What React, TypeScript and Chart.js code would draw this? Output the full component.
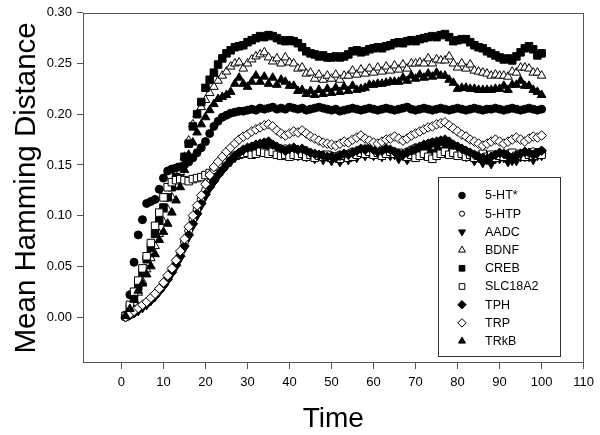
import React, { useEffect, useRef } from "react";
import { Chart, registerables } from "chart.js";

Chart.register(...registerables);

// Time points (x categories)
const TIME: number[] = Array.from({ length: 100 }, (_, i) => i + 1);
const X_TICKS = [0, 10, 20, 30, 40, 50, 60, 70, 80, 90, 100, 110];
const Y_TICKS = [0, 0.05, 0.1, 0.15, 0.2, 0.25, 0.3];

const HT5_STAR = [
  0.002, 0.022, 0.054, 0.081, 0.096, 0.112, 0.114, 0.116, 0.126, 0.137,
  0.144, 0.146, 0.147, 0.148, 0.150, 0.153, 0.157, 0.162, 0.167, 0.173,
  0.181, 0.188, 0.193, 0.197, 0.199, 0.201, 0.202, 0.203, 0.203, 0.204,
  0.205, 0.204, 0.206, 0.205, 0.206, 0.207, 0.205, 0.206, 0.205, 0.207,
  0.206, 0.205, 0.206, 0.204, 0.205, 0.206, 0.207, 0.206, 0.205, 0.204,
  0.205, 0.203, 0.204, 0.205, 0.206, 0.205, 0.204, 0.205, 0.206, 0.205,
  0.204, 0.205, 0.206, 0.205, 0.204, 0.205, 0.206, 0.207, 0.205, 0.204,
  0.205, 0.206, 0.205, 0.204, 0.205, 0.206, 0.205, 0.204, 0.205, 0.206,
  0.205, 0.204, 0.205, 0.206, 0.205, 0.204, 0.205, 0.205, 0.206, 0.205,
  0.204, 0.205, 0.206, 0.205, 0.204, 0.205, 0.206, 0.205, 0.204, 0.205,
];

const HTP5 = [
  0.000, 0.002, 0.005, 0.008, 0.011, 0.014, 0.018, 0.022, 0.027, 0.033,
  0.039, 0.046, 0.054, 0.063, 0.074, 0.085, 0.096, 0.106, 0.116, 0.125,
  0.132, 0.138, 0.143, 0.148, 0.152, 0.156, 0.159, 0.161, 0.163, 0.165,
  0.167, 0.168, 0.170, 0.171, 0.171, 0.169, 0.167, 0.165, 0.166, 0.164,
  0.165, 0.163, 0.164, 0.162, 0.161, 0.160, 0.159, 0.160, 0.158, 0.159,
  0.158, 0.160, 0.159, 0.161, 0.163, 0.162, 0.164, 0.166, 0.165, 0.163,
  0.164, 0.162, 0.165, 0.163, 0.162, 0.160, 0.161, 0.163, 0.165, 0.167,
  0.166, 0.169, 0.170, 0.172, 0.171, 0.173, 0.172, 0.171, 0.168, 0.166,
  0.165, 0.162, 0.161, 0.159, 0.158, 0.156, 0.157, 0.159, 0.158, 0.160,
  0.159, 0.161, 0.160, 0.158, 0.160, 0.162, 0.161, 0.163, 0.162, 0.163,
];

const AADC = [
  0.000, 0.002, 0.004, 0.006, 0.009, 0.012, 0.016, 0.020, 0.025, 0.030,
  0.036, 0.043, 0.050, 0.058, 0.068, 0.079, 0.090, 0.100, 0.110, 0.119,
  0.127, 0.133, 0.139, 0.144, 0.149, 0.153, 0.157, 0.160, 0.162, 0.164,
  0.166, 0.163, 0.168, 0.165, 0.170, 0.164, 0.167, 0.161, 0.165, 0.160,
  0.164, 0.159, 0.163, 0.158, 0.161, 0.156, 0.160, 0.155, 0.159, 0.154,
  0.158, 0.153, 0.158, 0.155, 0.160, 0.157, 0.162, 0.159, 0.163, 0.159,
  0.162, 0.158, 0.163, 0.159, 0.160, 0.156, 0.159, 0.155, 0.160, 0.160,
  0.164, 0.161, 0.166, 0.163, 0.168, 0.165, 0.170, 0.166, 0.166, 0.162,
  0.163, 0.158, 0.159, 0.154, 0.157, 0.152, 0.155, 0.151, 0.156, 0.156,
  0.157, 0.153, 0.154, 0.154, 0.158, 0.158, 0.158, 0.155, 0.159, 0.159,
];

const BDNF = [
  0.001, 0.006, 0.014, 0.024, 0.035, 0.047, 0.058, 0.070, 0.082, 0.094,
  0.106, 0.118, 0.130, 0.143, 0.158, 0.174, 0.190, 0.200, 0.207, 0.214,
  0.221, 0.227, 0.233, 0.238, 0.242, 0.247, 0.250, 0.251, 0.245, 0.250,
  0.254, 0.257, 0.259, 0.261, 0.256, 0.252, 0.255, 0.250, 0.256, 0.251,
  0.250, 0.245, 0.246, 0.240, 0.241, 0.235, 0.239, 0.234, 0.238, 0.235,
  0.239, 0.234, 0.238, 0.238, 0.243, 0.239, 0.244, 0.240, 0.245, 0.241,
  0.246, 0.242, 0.247, 0.243, 0.248, 0.244, 0.249, 0.245, 0.250, 0.250,
  0.251, 0.250, 0.255, 0.250, 0.254, 0.253, 0.253, 0.257, 0.250, 0.246,
  0.250, 0.245, 0.249, 0.243, 0.242, 0.241, 0.240, 0.238, 0.239, 0.238,
  0.238, 0.237, 0.242, 0.241, 0.246, 0.246, 0.245, 0.241, 0.241, 0.238,
];

const CREB = [
  0.001, 0.008, 0.018, 0.030, 0.044, 0.057, 0.068, 0.082, 0.095, 0.108,
  0.118, 0.128, 0.138, 0.148, 0.158, 0.171, 0.188, 0.200, 0.212, 0.226,
  0.234, 0.241, 0.249, 0.255, 0.260, 0.263, 0.266, 0.267, 0.268, 0.271,
  0.273, 0.275, 0.277, 0.276, 0.278, 0.277, 0.275, 0.273, 0.272, 0.273,
  0.272, 0.270, 0.266, 0.262, 0.260, 0.259, 0.257, 0.258, 0.256, 0.256,
  0.257, 0.256, 0.257, 0.259, 0.262, 0.263, 0.261, 0.262, 0.264, 0.265,
  0.266, 0.265, 0.267, 0.268, 0.270, 0.271, 0.270, 0.272, 0.273, 0.272,
  0.274, 0.275, 0.276, 0.277, 0.276, 0.278, 0.279, 0.276, 0.272, 0.273,
  0.274, 0.274, 0.271, 0.268, 0.266, 0.265, 0.262, 0.260, 0.258, 0.256,
  0.254, 0.255, 0.253, 0.257, 0.261, 0.265, 0.267, 0.264, 0.258, 0.260,
];

const SLC18A2 = [
  0.001, 0.012, 0.025, 0.036, 0.048, 0.060, 0.073, 0.090, 0.103, 0.118,
  0.128, 0.133, 0.135, 0.136, 0.135, 0.134, 0.136, 0.137, 0.138, 0.140,
  0.142, 0.145, 0.148, 0.151, 0.154, 0.157, 0.159, 0.160, 0.161, 0.162,
  0.160, 0.161, 0.163, 0.162, 0.161, 0.163, 0.160, 0.159, 0.160, 0.158,
  0.160, 0.159, 0.161, 0.158, 0.160, 0.157, 0.159, 0.158, 0.160, 0.157,
  0.158, 0.156, 0.159, 0.157, 0.158, 0.160, 0.162, 0.161, 0.163, 0.160,
  0.162, 0.159, 0.161, 0.163, 0.161, 0.162, 0.160, 0.158, 0.160, 0.157,
  0.159, 0.161, 0.158, 0.156, 0.159, 0.161, 0.163, 0.160, 0.162, 0.159,
  0.161, 0.158, 0.160, 0.157, 0.159, 0.161, 0.158, 0.160, 0.157, 0.159,
  0.158, 0.160, 0.162, 0.159, 0.161, 0.158, 0.160, 0.159, 0.161, 0.160,
];

const TPH = [
  0.000, 0.002, 0.004, 0.007, 0.010, 0.013, 0.017, 0.021, 0.026, 0.031,
  0.037, 0.044, 0.051, 0.060, 0.070, 0.081, 0.092, 0.102, 0.112, 0.121,
  0.128, 0.134, 0.140, 0.145, 0.150, 0.155, 0.159, 0.162, 0.165, 0.167,
  0.168, 0.170, 0.171, 0.172, 0.173, 0.170, 0.168, 0.166, 0.164, 0.166,
  0.167, 0.165, 0.166, 0.164, 0.162, 0.161, 0.160, 0.159, 0.158, 0.158,
  0.157, 0.159, 0.161, 0.160, 0.162, 0.164, 0.166, 0.165, 0.167, 0.165,
  0.163, 0.164, 0.166, 0.165, 0.163, 0.161, 0.160, 0.162, 0.164, 0.166,
  0.168, 0.170, 0.171, 0.172, 0.173, 0.174, 0.175, 0.173, 0.170, 0.168,
  0.166, 0.164, 0.162, 0.160, 0.158, 0.157, 0.156, 0.158, 0.160, 0.162,
  0.161, 0.159, 0.157, 0.159, 0.161, 0.163, 0.162, 0.160, 0.162, 0.164,
];

const TRP = [
  0.000, 0.003, 0.006, 0.009, 0.012, 0.015, 0.019, 0.023, 0.028, 0.034,
  0.041, 0.048, 0.056, 0.065, 0.077, 0.089, 0.100, 0.110, 0.120, 0.131,
  0.140, 0.148, 0.153, 0.158, 0.163, 0.167, 0.171, 0.175, 0.178, 0.180,
  0.183, 0.185, 0.187, 0.189, 0.190, 0.188, 0.184, 0.181, 0.179, 0.181,
  0.183, 0.182, 0.184, 0.181, 0.178, 0.176, 0.174, 0.172, 0.171, 0.170,
  0.169, 0.171, 0.173, 0.172, 0.175, 0.177, 0.179, 0.176, 0.174, 0.172,
  0.171, 0.173, 0.175, 0.176, 0.178, 0.176, 0.174, 0.176, 0.179, 0.181,
  0.183, 0.185, 0.187, 0.188, 0.190, 0.191, 0.192, 0.189, 0.186, 0.183,
  0.180, 0.178, 0.175, 0.173, 0.171, 0.169, 0.171, 0.173, 0.175, 0.173,
  0.171, 0.173, 0.175, 0.177, 0.175, 0.173, 0.176, 0.178, 0.177, 0.179,
];

const TRKB = [
  0.001, 0.008, 0.017, 0.026, 0.033, 0.042, 0.050, 0.062, 0.076, 0.084,
  0.092, 0.103, 0.115, 0.128, 0.145, 0.160, 0.172, 0.182, 0.190, 0.197,
  0.204, 0.210, 0.215, 0.217, 0.219, 0.222, 0.230, 0.236, 0.230, 0.227,
  0.232, 0.238, 0.232, 0.237, 0.230, 0.236, 0.229, 0.234, 0.232, 0.228,
  0.228, 0.223, 0.224, 0.220, 0.223, 0.219, 0.224, 0.220, 0.225, 0.221,
  0.226, 0.222, 0.227, 0.223, 0.228, 0.224, 0.225, 0.226, 0.229, 0.229,
  0.230, 0.230, 0.231, 0.232, 0.232, 0.232, 0.236, 0.233, 0.238, 0.235,
  0.239, 0.236, 0.240, 0.237, 0.241, 0.238, 0.238, 0.234, 0.231, 0.225,
  0.226, 0.226, 0.225, 0.225, 0.224, 0.224, 0.224, 0.224, 0.225, 0.225,
  0.228, 0.224, 0.229, 0.229, 0.233, 0.228, 0.228, 0.224, 0.222, 0.219,
];

const LABELS = ["5-HT*", "5-HTP", "AADC", "BDNF", "CREB", "SLC18A2", "TPH", "TRP", "TRkB"];
const VALUES = [HT5_STAR, HTP5, AADC, BDNF, CREB, SLC18A2, TPH, TRP, TRKB];

type Mk = { style: string; rot: number; filled: boolean; r: number; lr: number };
const MARKERS: Mk[] = [
  { style: "circle", rot: 0, filled: true, r: 4.0, lr: 3.3 },
  { style: "circle", rot: 0, filled: false, r: 4.0, lr: 2.6 },
  { style: "triangle", rot: 180, filled: true, r: 5.0, lr: 4.0 },
  { style: "triangle", rot: 0, filled: false, r: 5.0, lr: 4.0 },
  { style: "rect", rot: 0, filled: true, r: 5.3, lr: 4.0 },
  { style: "rect", rot: 0, filled: false, r: 5.3, lr: 4.0 },
  { style: "rectRot", rot: 0, filled: true, r: 4.8, lr: 4.2 },
  { style: "rectRot", rot: 0, filled: false, r: 4.8, lr: 4.2 },
  { style: "triangle", rot: 0, filled: true, r: 5.0, lr: 4.0 },
];

const FONT = '"Liberation Sans", Arial, Helvetica, sans-serif';
const AXIS_COLOR = "#555555";

function drawMarker(ctx: CanvasRenderingContext2D, m: Mk, x: number, y: number, r: number) {
  ctx.beginPath();
  if (m.style === "circle") {
    ctx.arc(x, y, r, 0, Math.PI * 2);
  } else if (m.style === "rect") {
    const s = Math.SQRT1_2 * r;
    ctx.rect(x - s, y - s, 2 * s, 2 * s);
  } else if (m.style === "rectRot") {
    ctx.moveTo(x, y - r);
    ctx.lineTo(x + r, y);
    ctx.lineTo(x, y + r);
    ctx.lineTo(x - r, y);
    ctx.closePath();
  } else if (m.style === "triangle") {
    let a = (m.rot * Math.PI) / 180;
    ctx.moveTo(x + Math.sin(a) * r, y - Math.cos(a) * r);
    a += (2 * Math.PI) / 3;
    ctx.lineTo(x + Math.sin(a) * r, y - Math.cos(a) * r);
    a += (2 * Math.PI) / 3;
    ctx.lineTo(x + Math.sin(a) * r, y - Math.cos(a) * r);
    ctx.closePath();
  }
  ctx.fillStyle = m.filled ? "#000" : "#fff";
  ctx.fill();
  ctx.strokeStyle = "#000";
  ctx.lineWidth = 1;
  ctx.stroke();
}

const decorPlugin = {
  id: "decor",
  afterDraw(chart: any) {
    const { ctx, chartArea: a } = chart;
    ctx.save();
    // frame
    ctx.strokeStyle = AXIS_COLOR;
    ctx.lineWidth = 1;
    ctx.strokeRect(Math.round(a.left) + 0.5, Math.round(a.top) + 0.5, Math.round(a.right - a.left) - 1, Math.round(a.bottom - a.top) - 1);

    // axis titles
    ctx.fillStyle = "#000";
    ctx.textAlign = "center";
    ctx.textBaseline = "middle";
    ctx.font = `28px ${FONT}`;
    ctx.fillText("Time", (a.left + a.right) / 2, 419);
    ctx.save();
    ctx.translate(27, (a.top + a.bottom) / 2);
    ctx.rotate(-Math.PI / 2);
    ctx.font = `29.5px ${FONT}`;
    ctx.fillText("Mean Hamming Distance", 0, 0);
    ctx.restore();

    // legend
    const bx = 438, by = 177, bw = 122, bh = 179;
    ctx.fillStyle = "#fff";
    ctx.fillRect(bx, by, bw, bh);
    ctx.strokeStyle = "#333";
    ctx.strokeRect(bx + 0.5, by + 0.5, bw, bh);
    ctx.font = `12.5px ${FONT}`;
    ctx.textAlign = "left";
    ctx.textBaseline = "middle";
    LABELS.forEach((lab, i) => {
      const y = 195.5 + i * 18.2;
      drawMarker(ctx, MARKERS[i], 462, y, MARKERS[i].lr);
      ctx.fillStyle = "#000";
      ctx.fillText(lab, 485, y + 0.5);
    });
    ctx.restore();
  },
};

export default function App() {
  const ref = useRef<HTMLCanvasElement | null>(null);
  useEffect(() => {
    const prevMargin = document.body.style.margin;
    document.body.style.margin = "0";
    const canvas = ref.current!;
    const datasets = LABELS.map((lab, i) => {
      const m = MARKERS[i];
      return {
        label: lab,
        data: TIME.map((t, j) => ({ x: t, y: VALUES[i][j] })),
        showLine: false,
        pointStyle: m.style,
        pointRotation: m.rot,
        pointRadius: m.r,
        pointHoverRadius: m.r,
        pointBackgroundColor: m.filled ? "#000" : "#fff",
        pointBorderColor: "#000",
        pointBorderWidth: 1,
        order: -i,
      };
    });
    const tickFont = { family: FONT, size: 13 };
    const chart = new Chart(canvas, {
      type: "scatter",
      data: { datasets: datasets as any },
      options: {
        responsive: false,
        animation: false,
        devicePixelRatio: 1,
        events: [],
        layout: { padding: { top: 12, right: 14, left: 0, bottom: 0 } },
        plugins: { legend: { display: false }, tooltip: { enabled: false } },
        scales: {
          x: {
            type: "linear",
            min: -9.15,
            max: 110,
            afterBuildTicks: (axis: any) => {
              axis.ticks = X_TICKS.map((v) => ({ value: v }));
            },
            afterFit: (s: any) => {
              s.height = 72;
            },
            border: { display: false },
            grid: { display: true, drawOnChartArea: false, drawTicks: true, tickLength: 6, color: AXIS_COLOR },
            ticks: { font: tickFont, color: "#000", padding: 6, maxRotation: 0, autoSkip: false, callback: (v: any) => String(v) },
          },
          y: {
            type: "linear",
            min: -0.0453,
            max: 0.3,
            afterBuildTicks: (axis: any) => {
              axis.ticks = Y_TICKS.map((v) => ({ value: v }));
            },
            afterFit: (s: any) => {
              s.width = 83;
            },
            border: { display: false },
            grid: { display: true, drawOnChartArea: false, drawTicks: true, tickLength: 6, color: AXIS_COLOR },
            ticks: { font: tickFont, color: "#000", padding: 5, autoSkip: false, callback: (v: any) => Number(v).toFixed(2) },
          },
        },
      },
      plugins: [decorPlugin],
    });
    return () => {
      chart.destroy();
      document.body.style.margin = prevMargin;
    };
  }, []);
  return (
    <div style={{ position: "fixed", left: 0, top: 0, width: 600, height: 435, background: "#fff" }}>
      <canvas ref={ref} width={600} height={435} style={{ display: "block", width: 600, height: 435 }} />
    </div>
  );
}
